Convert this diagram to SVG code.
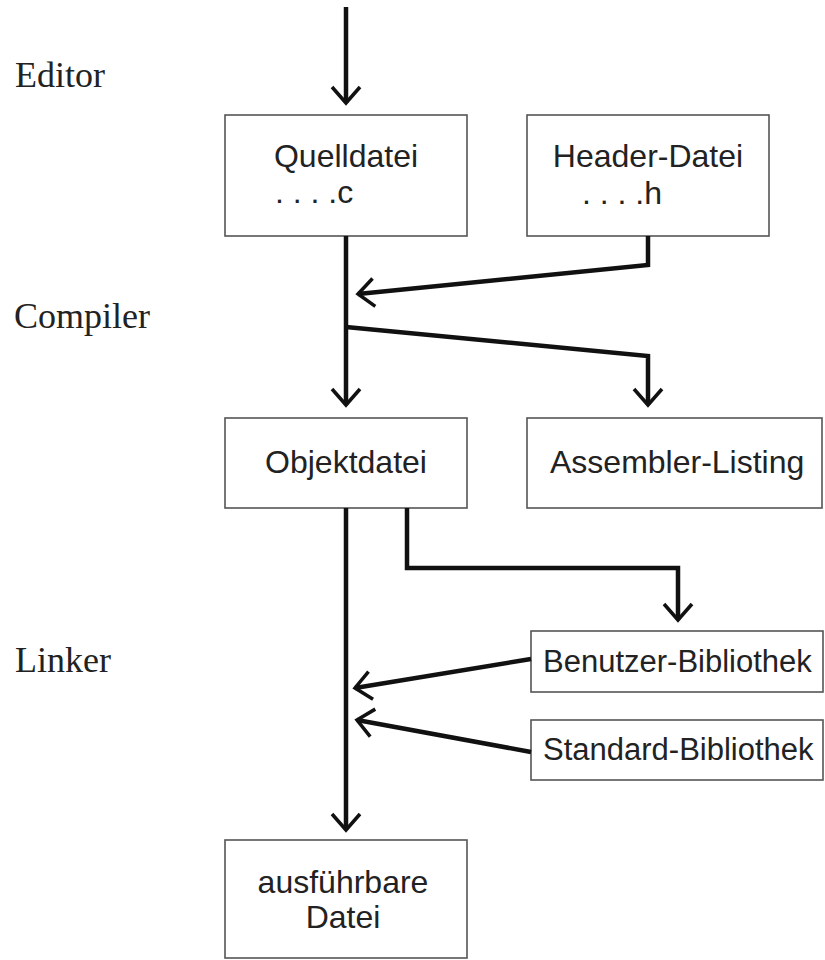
<svg xmlns="http://www.w3.org/2000/svg" width="825" height="960" viewBox="0 0 825 960">
<style>
.box{fill:#fff;stroke:#555;stroke-width:1.6}
.t{font-family:"Liberation Sans",Arial,sans-serif;font-size:32px;fill:#222}
.s{font-size:31px}
.m{text-anchor:middle}
.lbl{font-family:"Liberation Serif","Times New Roman",serif;font-size:36px;fill:#222}
.c{fill:none;stroke:#111;stroke-width:4.5;stroke-linejoin:miter}
</style>
<defs>
<marker id="ah" markerUnits="userSpaceOnUse" markerWidth="40" markerHeight="40" viewBox="-20 -20 40 40" refX="0" refY="0" orient="auto">
<path d="M-16,-14 L0,0 L-16,14" fill="none" stroke="#111" stroke-width="3.5"/>
</marker>
</defs>
<rect width="825" height="960" fill="#fff"/>
<g id="labels">
<text class="lbl" x="15" y="87">Editor</text>
<text class="lbl" x="14" y="328">Compiler</text>
<text class="lbl" x="15" y="672">Linker</text>
</g>
<g id="quelldatei">
<rect class="box" x="225" y="115" width="242" height="121"/>
<text class="t m" x="346" y="167">Quelldatei</text>
<text class="t" x="275" y="203">. . . .c</text>
</g>
<g id="header">
<rect class="box" x="527" y="115" width="242" height="121"/>
<text class="t m" x="648" y="167">Header-Datei</text>
<text class="t" x="582" y="204">. . . .h</text>
</g>
<g id="objektdatei">
<rect class="box" x="225" y="418" width="242" height="90"/>
<text class="t m" x="346" y="473">Objektdatei</text>
</g>
<g id="assembler">
<rect class="box" x="527" y="418" width="295" height="90"/>
<text class="t" x="550" y="473">Assembler-Listing</text>
</g>
<g id="benutzer">
<rect class="box" x="531" y="631" width="292" height="61"/>
<text class="t s" x="543" y="672">Benutzer-Bibliothek</text>
</g>
<g id="standard">
<rect class="box" x="531" y="720" width="292" height="60"/>
<text class="t s" x="543" y="760">Standard-Bibliothek</text>
</g>
<g id="ausfuehrbar">
<rect class="box" x="225" y="840" width="242" height="118"/>
<text class="t m" x="343" y="893">ausführbare</text>
<text class="t m" x="343" y="928">Datei</text>
</g>
<g id="connectors">
<path class="c" d="M346,7 L346,103" marker-end="url(#ah)"/>
<path class="c" d="M346,236 L346,405" marker-end="url(#ah)"/>
<path class="c" d="M648,236 L648,265 L358,294" marker-end="url(#ah)"/>
<path class="c" d="M346,327 L648,356 L648,405" marker-end="url(#ah)"/>
<path class="c" d="M346,508 L346,830" marker-end="url(#ah)"/>
<path class="c" d="M407,508 L407,568 L678,568 L678,620" marker-end="url(#ah)"/>
<path class="c" d="M531,659 L355,688" marker-end="url(#ah)"/>
<path class="c" d="M531,752 L357,720" marker-end="url(#ah)"/>
</g>
</svg>
